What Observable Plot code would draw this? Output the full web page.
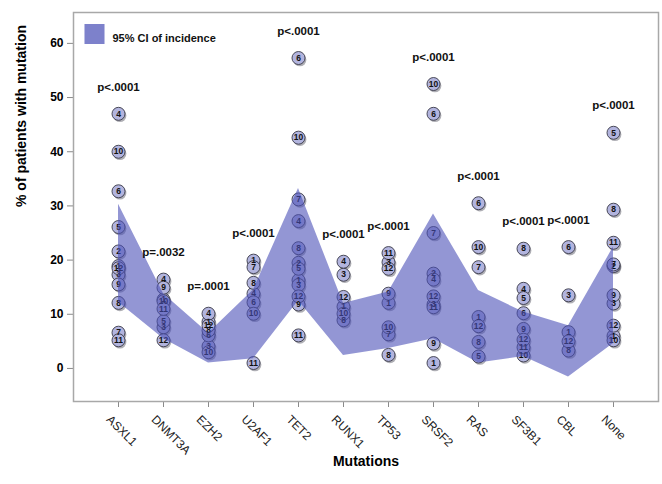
<!DOCTYPE html>
<html><head><meta charset="utf-8">
<script src="https://cdn.jsdelivr.net/npm/d3@7"></script>
<script src="https://cdn.jsdelivr.net/npm/@observablehq/plot@0.6"></script>
<style>body{margin:0;background:#fff;} #chart{width:662px;height:484px;}</style>
</head><body><div id="chart"></div>
<script>
const categories = ["ASXL1","DNMT3A","EZH2","U2AF1","TET2","RUNX1","TP53","SRSF2","RAS","SF3B1","CBL","None"];
const pValues = ["p<.0001","p=.0032","p=.0001","p<.0001","p<.0001","p<.0001","p<.0001","p<.0001","p<.0001","p<.0001","p<.0001","p<.0001"];
const ciLower = [12.2, 5.5, 1.0, 1.8, 12.5, 2.4, 3.7, 5.5, 1.0, 2.2, -1.6, 4.6];
const ciUpper = [30.3, 13.8, 6.5, 14.5, 33.2, 12.0, 14.1, 28.5, 14.4, 10.4, 7.9, 22.4];
const yTicks = [0, 10, 20, 30, 40, 50, 60];

// values per study (index 0 = study 1), null = not reported
const valsASXL1  = [18.9, 21.6, 17.3, 47.0, 26.1, 32.7, 6.6, 12.1, 15.5, 40.0, 5.2, 18.5];
const valsDNMT3A = [12.7, null, 7.6, 16.4, 8.7, null, null, null, 14.9, 12.4, 11.0, 5.2];
const valsEZH2   = [8.6, null, 4.1, 10.1, null, 6.1, null, 7.0, null, 3.0, null, 7.9];
const valsU2AF1  = [19.9, null, null, 13.8, null, 12.2, 18.7, 15.8, null, 10.1, 1.0, null];
const valsTET2   = [16.3, 19.5, 15.4, 27.2, 18.4, 57.3, 31.2, 22.2, 11.8, 42.6, 6.1, 13.3];
const valsRUNX1  = [11.4, null, 17.3, 19.7, null, null, null, 8.9, null, 10.1, null, 13.2];
const valsTP53   = [12.1, null, 19.6, null, null, null, 6.3, 2.5, 13.8, 7.6, 21.3, 18.4];
const valsSRSF2  = [1.0, 17.5, 11.8, 16.4, null, 47.0, 25.0, null, 4.6, 52.5, 11.3, 13.3];
const valsRAS    = [9.5, null, null, null, 2.2, 30.5, 18.7, 4.9, null, 22.4, null, 7.8];
const valsSF3B1  = [null, null, null, 14.7, 13.0, 10.2, null, 22.1, 7.3, 2.4, 3.9, 5.3];
const valsCBL    = [6.7, null, 13.5, null, null, 22.4, null, 3.3, null, null, null, 5.0];
const valsNone   = [6.0, 18.9, 12.0, null, 43.5, null, 19.2, 29.3, 13.5, 5.2, 23.2, 7.9];
const seriesList = [valsASXL1, valsDNMT3A, valsEZH2, valsU2AF1, valsTET2, valsRUNX1, valsTP53, valsSRSF2, valsRAS, valsSF3B1, valsCBL, valsNone];

const rows = [];
seriesList.forEach((vals, i) => vals.forEach((v, k) => {
  if (v != null) rows.push({cat: categories[i], study: k + 1, value: v});
}));
const band = categories.map((c, i) => ({cat: c, lo: ciLower[i], hi: ciUpper[i]}));
const tops = categories.map((c, i) => ({cat: c, p: pValues[i], top: Math.max(d3.max(seriesList[i]), ciUpper[i])}));

const font = "'Liberation Sans', Arial, Helvetica, sans-serif";
const plot = Plot.plot({
  width: 662, height: 484,
  marginLeft: 73, marginRight: 4, marginTop: 12, marginBottom: 83,
  style: {fontFamily: font, background: "#fff", color: "#000"},
  x: {type: "point", domain: categories, padding: 0.95, axis: null},
  y: {domain: [-6.1, 65.7], axis: null},
  marks: [
    Plot.axisY(yTicks, {tickSize: 6, tickPadding: 4, fontSize: 12, fontWeight: "bold", stroke: "#8a8a8a", fill: "#000", label: null}),
    Plot.axisX(categories, {tickSize: 6, tickFormat: () => "", stroke: "#8a8a8a", label: null}),
    Plot.text(categories, {x: d => d, frameAnchor: "bottom", rotate: 45, textAnchor: "start", lineAnchor: "middle", dx: -10, dy: 16, fontSize: 12, fill: "#222"}),
    Plot.text(["% of patients with mutation"], {frameAnchor: "left", rotate: -90, dx: -52, fontSize: 14, fontWeight: "bold"}),
    Plot.text(["Mutations"], {frameAnchor: "bottom", dy: 64, fontSize: 14, fontWeight: "bold"}),
    Plot.dot(rows, {x: "cat", y: "value", r: 6.5, fill: "#1a1a2a", fillOpacity: 0.35, dx: 1.4, dy: 1.8}),
    Plot.dot(rows, {x: "cat", y: "value", r: 6.5, fill: "#b2b4de", stroke: "#3a3a48", strokeWidth: 0.9}),
    Plot.text(rows, {x: "cat", y: "value", text: "study", fontSize: 8.5, fontWeight: "bold", fill: "#111"}),
    Plot.areaY(band, {x: "cat", y1: "lo", y2: "hi", fill: "#4b50b8", fillOpacity: 0.6}),
    Plot.text(tops, {x: "cat", y: "top", text: "p", dy: -27, fontSize: 11.5, fontWeight: "bold", fill: "#111"}),
    Plot.dot([0], {frameAnchor: "top-left", dx: 21, dy: 21.5, symbol: "square", r: 11.3, fill: "#7d81cb"}),
    Plot.text(["95% CI of incidence"], {frameAnchor: "top-left", dx: 39, dy: 22, textAnchor: "start", fontSize: 11, fontWeight: "bold", fill: "#111"}),
    Plot.frame({stroke: "#a8a8a8", strokeWidth: 1.5})
  ]
});
document.getElementById("chart").appendChild(plot);
</script>
</body></html>
